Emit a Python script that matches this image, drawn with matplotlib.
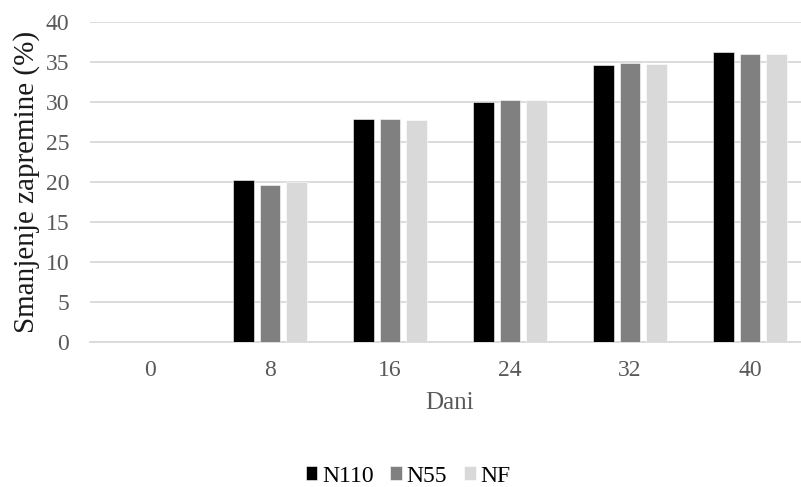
import numpy as np
import matplotlib
matplotlib.use("Agg")
import matplotlib.pyplot as plt

matplotlib.rcParams['font.family'] = ['Liberation Serif', 'DejaVu Serif']

days = ["0", "8", "16", "24", "32", "40"]
n110 = [0, 20.3, 27.9, 30.0, 34.6, 36.3]
n55 = [0, 19.6, 27.9, 30.3, 34.9, 36.0]
nf = [0, 20.0, 27.7, 30.2, 34.8, 36.0]

series = [("N110", n110, "#000000"), ("N55", n55, "#808080"), ("NF", nf, "#d9d9d9")]

fig = plt.figure(figsize=(8.01, 4.87), dpi=100)
# plot area runs a little past the right edge of the canvas
ax = fig.add_axes([90 / 801, 145 / 487, 720 / 801, 320 / 487])

x = np.arange(len(days))
width = 0.172
step = 0.221
for i, (name, vals, color) in enumerate(series):
    ax.bar(x + (i - 1) * step, vals, width, color=color, label=name,
           edgecolor="white", linewidth=0.4, zorder=3)

ax.set_ylim(0, 40)
ax.set_xlim(-0.5, 5.5)
ax.set_yticks(np.arange(0, 41, 5))
ax.set_xticks(x)
ax.set_xticklabels(days)
ax.yaxis.grid(True, color="#d9d9d9", linewidth=1.3, zorder=0)
ax.set_axisbelow(True)
for side in ["top", "right", "left"]:
    ax.spines[side].set_visible(False)
ax.spines["bottom"].set_color("#d9d9d9")
ax.spines["bottom"].set_linewidth(1.3)
ax.tick_params(axis="both", length=0, labelsize=17, labelcolor="#595959")
ax.tick_params(axis="y", pad=15)
ax.tick_params(axis="x", pad=13)

ax.set_ylabel("Smanjenje zapremine (%)", fontsize=21, color="#1a1a1a", labelpad=4)
ax.set_xlabel("Dani", fontsize=18, color="#595959", labelpad=8)

fig.legend(loc="center", bbox_to_anchor=(408 / 801, 1 - 476 / 487), ncol=3,
           frameon=False, fontsize=17, handlelength=0.5, handleheight=0.5,
           handletextpad=0.2, columnspacing=0.7, borderpad=0.2)

fig.savefig("out.png", dpi=100)
